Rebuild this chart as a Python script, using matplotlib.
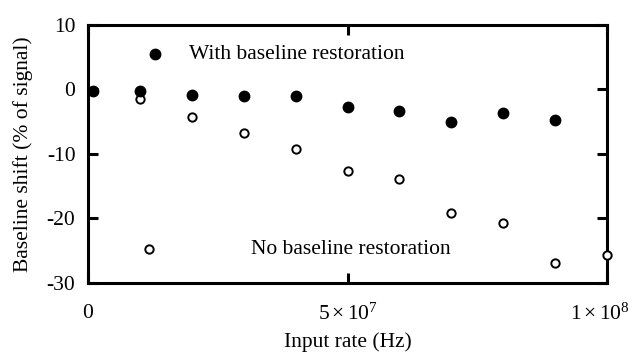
import numpy as np
import matplotlib.pyplot as plt
import matplotlib.transforms as mtransforms

plt.rcParams['font.family'] = ['Liberation Serif', 'DejaVu Serif']
plt.rcParams['mathtext.fontset'] = 'custom'
plt.rcParams['mathtext.rm'] = 'Liberation Serif'
plt.rcParams['mathtext.it'] = 'Liberation Serif:italic'
plt.rcParams['axes.unicode_minus'] = False

# input rate (Hz) and baseline shift (% of signal)
rate_with = [1e6, 1e7, 2e7, 3e7, 4e7, 5e7, 6e7, 7e7, 8e7, 9e7]
shift_with = [-0.3, -0.2, -0.8, -1.0, -1.0, -2.7, -3.3, -5.0, -3.6, -4.7]

rate_none = [1e6, 1e7, 2e7, 3e7, 4e7, 5e7, 6e7, 7e7, 8e7, 9e7, 1e8]
shift_none = [-0.3, -1.5, -4.3, -6.8, -9.2, -12.7, -13.9, -19.1, -20.7, -26.9, -25.7]

xticks = [0, 5e7, 1e8]
xtick_labels = ['0', r'$5\times10^{7}$', r'$1\times10^{8}$']
yticks = [-30, -20, -10, 0, 10]

fs = 15.5

fig = plt.figure(figsize=(6.33, 3.56), dpi=100)
ax = fig.add_axes([0.139, 0.205, 0.820, 0.725])

ax.plot(rate_none, shift_none, 'o', ms=6, mfc='white', mec='black', mew=1.4,
        clip_on=False, zorder=3)
ax.plot(rate_with, shift_with, 'o', ms=7.5, mfc='black', mec='black',
        clip_on=False, zorder=4)

# key markers placed inside the axes
ax.plot([1.3e7], [5.45], 'o', ms=7.5, mfc='black', mec='black')
ax.text(1.95e7, 5.45, 'With baseline restoration', fontsize=fs, va='center')
ax.plot([1.17e7], [-24.8], 'o', ms=6, mfc='white', mec='black', mew=1.4)
ax.text(3.15e7, -24.85, 'No baseline restoration', fontsize=fs, va='center')

ax.set_xlim(0, 1e8)
ax.set_ylim(-30, 10)
ax.set_xticks(xticks, xtick_labels)
ax.set_yticks(yticks)

for s in ax.spines.values():
    s.set_linewidth(2.2)
ax.tick_params(direction='in', length=7, width=2.2, labelsize=fs,
               top=True, right=True)
ax.tick_params(axis='x', pad=15)
ax.tick_params(axis='y', pad=9)

# nudge the last x label left so it stays inside the figure
last = ax.get_xticklabels()[-1]
last.set_transform(last.get_transform() +
                   mtransforms.ScaledTranslation(-5 / 72, 0, fig.dpi_scale_trans))

ax.set_xlabel('Input rate (Hz)', fontsize=fs, labelpad=5)
ax.set_ylabel('Baseline shift (% of signal)', fontsize=fs, labelpad=10)

fig.savefig('out.png', dpi=100)
